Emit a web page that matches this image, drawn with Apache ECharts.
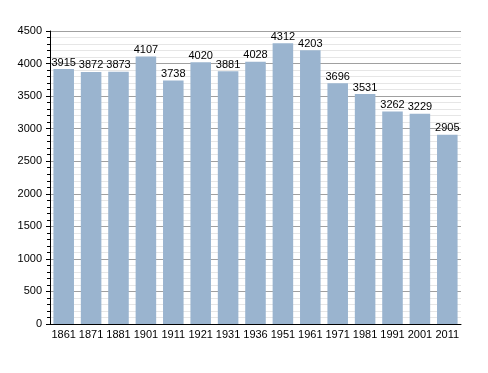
<!DOCTYPE html>
<html><head><meta charset="utf-8">
<script src="https://cdn.jsdelivr.net/npm/echarts@6/dist/echarts.min.js"></script>
<style>html,body{margin:0;padding:0;background:#fff}#c{width:488px;height:373px}</style>
</head><body><div id="c"></div>
<script>
const categories = ["1861","1871","1881","1901","1911","1921","1931","1936","1951","1961","1971","1981","1991","2001","2011"];
const population = [3915,3872,3873,4107,3738,4020,3881,4028,4312,4203,3696,3531,3262,3229,2905];
const yTicks = [0,500,1000,1500,2000,2500,3000,3500,4000,4500];

const chart = echarts.init(document.getElementById('c'), null, {renderer:'canvas'});
chart.setOption({
  animation:false,
  grid:{left:50,top:31,right:27,bottom:49,containLabel:false},
  xAxis:{type:'category',data:categories,
    axisLine:{lineStyle:{color:'#000',width:1}},
    axisTick:{show:false},
    axisLabel:{color:'#000',fontFamily:'Liberation Sans, Arial',fontSize:11,margin:5,interval:0}},
  yAxis:{type:'value',min:yTicks[0],max:yTicks[yTicks.length-1],interval:500,
    axisLine:{show:true,lineStyle:{color:'#000',width:1}},
    axisTick:{show:true,inside:false,length:4,lineStyle:{color:'#000'}},
    minorTick:{show:true,splitNumber:5,length:3,lineStyle:{color:'#000'}},
    axisLabel:{color:'#000',fontFamily:'Liberation Sans, Arial',fontSize:11,margin:8,
      formatter:function(v){return String(v);}},
    splitLine:{show:true,lineStyle:{color:'#a0a0a0',width:1}},
    minorSplitLine:{show:true,lineStyle:{color:'#e6e6e6',width:1}}},
  series:[{type:'bar',data:population,barWidth:'75%',
    itemStyle:{color:'#9ab4cf'},
    label:{show:true,position:'top',distance:1,color:'#000',fontFamily:'Liberation Sans, Arial',fontSize:11}}]
});
</script></body></html>
